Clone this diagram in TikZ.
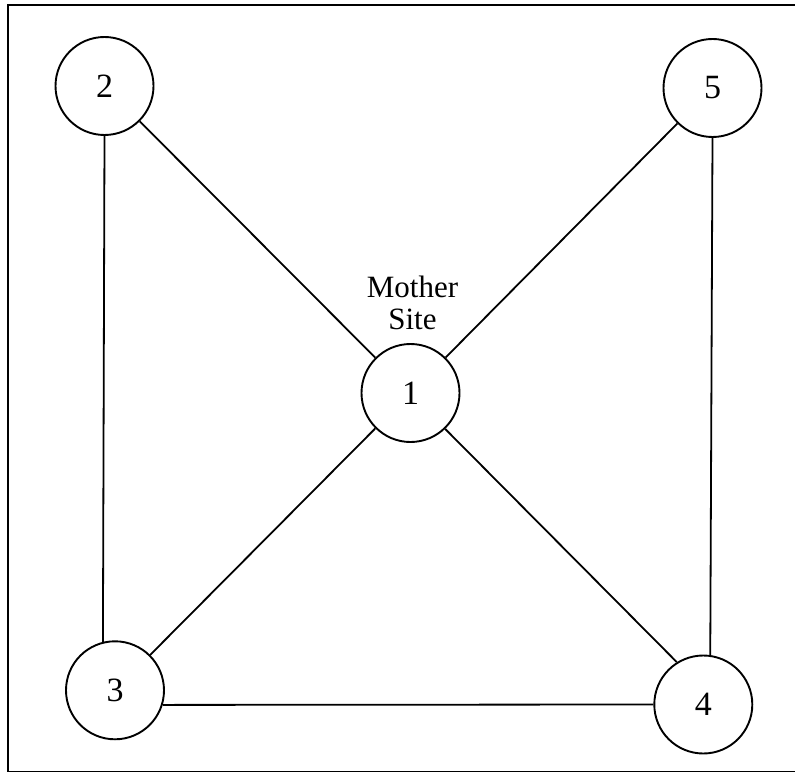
\documentclass[tikz,border=0pt]{standalone}
\usepackage{fontspec}
\setmainfont{Liberation Serif}
\begin{document}
\begin{tikzpicture}[x=1pt,y=-1pt,
  site/.style={circle,draw,line width=1.9pt,minimum size=98pt,inner sep=0pt,font=\fontsize{34}{38}\selectfont},
  link/.style={line width=1.8pt},
  label/.style={align=center,font=\fontsize{31}{32}\selectfont}]
\useasboundingbox (0,0) rectangle (795,773);
% outer frame (open on the right)
\draw[line width=1.9pt] (795,5) -- (8,5) -- (8,771.5) -- (795,771.5);
% sites
\node[site] (n1) at (410.5,393) {1};
\node[site] (n2) at (104.5,86) {2};
\node[site] (n3) at (115,690.3) {3};
\node[site] (n4) at (703.3,704.5) {4};
\node[site] (n5) at (712.5,88) {5};
\node[label] (ms) at (412.5,303) {Mother\\Site};
% links
\draw[link] (n2) -- (n1);
\draw[link] (n5) -- (n1);
\draw[link] (n3) -- (n1);
\draw[link] (n1.-46) -- (n4.122);
\draw[link] (n2.south) -- (n3.104);
\draw[link] (n3.-17) -- (n4.west);
\draw[link] (n5.south) -- (n4.82);
\end{tikzpicture}
\end{document}
